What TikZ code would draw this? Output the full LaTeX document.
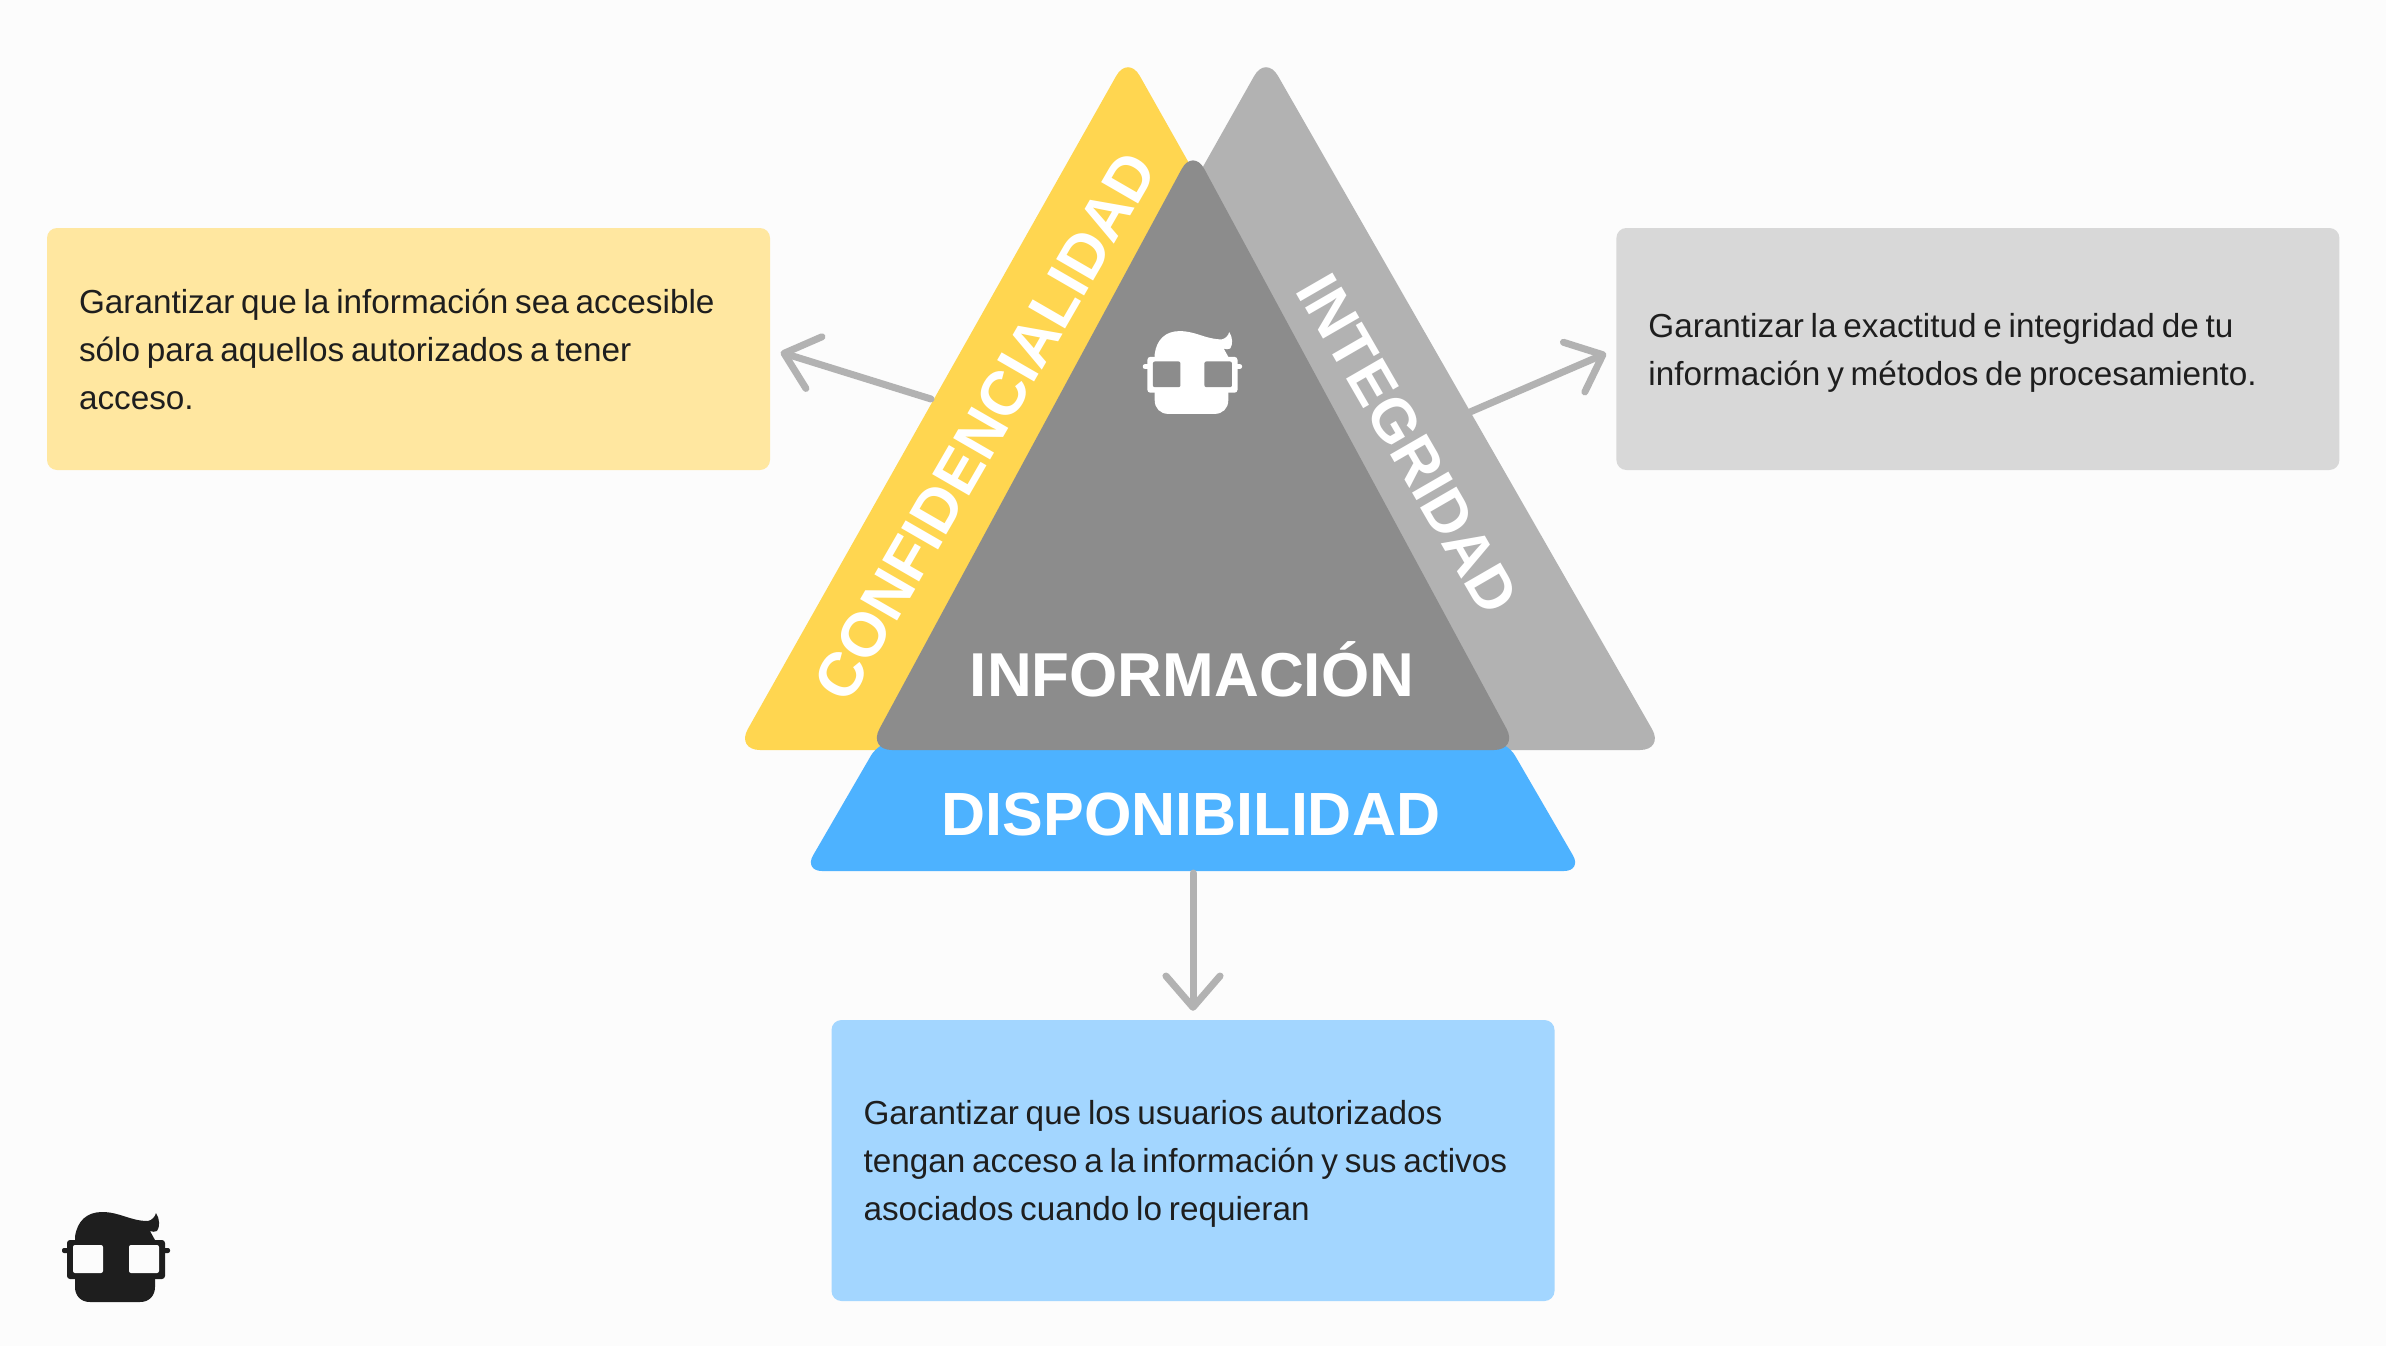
\documentclass[tikz,border=0pt]{standalone}
\usepackage{fontspec}
\setmainfont{Liberation Sans}
\usetikzlibrary{arrows.meta,positioning}
\definecolor{fondo}{HTML}{FCFCFC}
\definecolor{amarillo}{HTML}{FFD650}
\definecolor{amarilloclaro}{HTML}{FFE7A0}
\definecolor{grisclaro}{HTML}{B2B2B2}
\definecolor{grisoscuro}{HTML}{8C8C8C}
\definecolor{grispalido}{HTML}{D8D8D8}
\definecolor{azul}{HTML}{4DB2FF}
\definecolor{azulclaro}{HTML}{A3D6FF}
\definecolor{tinta}{HTML}{1E1E1E}
\tikzset{
  caja/.style={
    rectangle,rounded corners=10pt,minimum width=723pt,inner sep=0pt,
    text width=659pt,align=left,text=tinta,
    font=\fontsize{33.3}{48}\selectfont,
    execute at begin node={\spaceskip=6.8pt\relax\rule{0pt}{33pt}},
    execute at end node={\rule[-9pt]{0pt}{9pt}}
  },
  titulo/.style={text=white,inner sep=0pt,font=\fontsize{62}{70}\selectfont\bfseries},
  flecha/.style={-{Straight Barb[length=11mm,width=19mm,line width=7pt,round]},
    grisclaro,line width=7pt,line cap=round}
}
\newcommand{\cabeza}[5]{
  \begin{scope}[shift={(#1,#2)},scale=#3]
    \fill[#4] (-40,-20) .. controls (-38,-36) and (-28,-45) .. (-13,-45)
      .. controls (5,-45) and (15,-36) .. (33,-36)
      .. controls (37,-37) and (40,-40) .. (41,-44)
      .. controls (45,-38) and (45,-30) .. (42,-26)
      .. controls (40,-25) and (37,-25) .. (35,-26)
      -- (40,-17) -- (40,30) .. controls (40,39) and (34,45) .. (25,45)
      -- (-25,45) .. controls (-34,45) and (-40,39) .. (-40,30) -- cycle;
    \fill[#4,rounded corners=3pt] (-48,-17) rectangle (50,22);
    \fill[#4,rounded corners=2pt] (-53,-9) rectangle (55,-4);
    \fill[#5,rounded corners=2pt] (-42,-12) rectangle (-12,16);
    \fill[#5,rounded corners=2pt] (14,-12) rectangle (44,16);
  \end{scope}
}

\begin{document}
\begin{tikzpicture}[x=1pt,y=-1pt]
\useasboundingbox (0,0) rectangle (2386,1346);
\fill[fondo] (0,0) rectangle (2386,1346);

% triangulos
\fill[amarillo,rounded corners=24pt] (736,750) -- (1128,55) -- (1520,750) -- cycle;
\fill[grisclaro,rounded corners=24pt] (874,750) -- (1266,55) -- (1664,750) -- cycle;
\fill[azul,rounded corners=18pt] (880,740) -- (1506,740) -- (1582,871) -- (804,871) -- cycle;
\fill[grisoscuro,rounded corners=24pt] (868,750) -- (1193,148) -- (1518,750) -- cycle;

\node[titulo,rotate=60] (conf) at (985,426) {CONFIDENCIALIDAD};
\node[titulo,rotate=-60,font=\fontsize{61}{70}\selectfont\bfseries] (integ) at (1408,444) {INTEGRIDAD};
\node[titulo] (info) at (1192,669) {INFORMACIÓN};
\node[titulo,font=\fontsize{61}{70}\selectfont\bfseries] (disp) at (1191,814) {DISPONIBILIDAD};

\cabeza{1191.5}{372.5}{0.92}{white}{grisoscuro}
\cabeza{115}{1257}{1}{tinta}{fondo}

% cajas
\node[caja,fill=amarilloclaro,minimum height=242pt] (cajaconf) at (408.5,349) {
Garantizar que la información sea accesible\\
sólo para aquellos autorizados a tener\\
acceso.
};
\node[caja,fill=grispalido,minimum height=242pt,right=846pt of cajaconf] (cajainteg) {
Garantizar la exactitud e integridad de tu\\
información y métodos de procesamiento.
};
\node[caja,fill=azulclaro,minimum height=281pt] (cajadisp) at (1193,1160.5) {
Garantizar que los usuarios autorizados\\
tengan acceso a la información y sus activos\\
asociados cuando lo requieran
};

% flechas
\coordinate (salconf) at (931,399);
\coordinate (salinteg) at (1470,412);
\coordinate (saldisp) at (1193,873);
\draw[flecha,shorten >=11pt] (salconf) -- (cajaconf.east);
\draw[flecha,shorten >=11pt] (salinteg) -- (cajainteg.west);
\draw[flecha,shorten >=9pt] (saldisp) -- (cajadisp.north);

\end{tikzpicture}
\end{document}
